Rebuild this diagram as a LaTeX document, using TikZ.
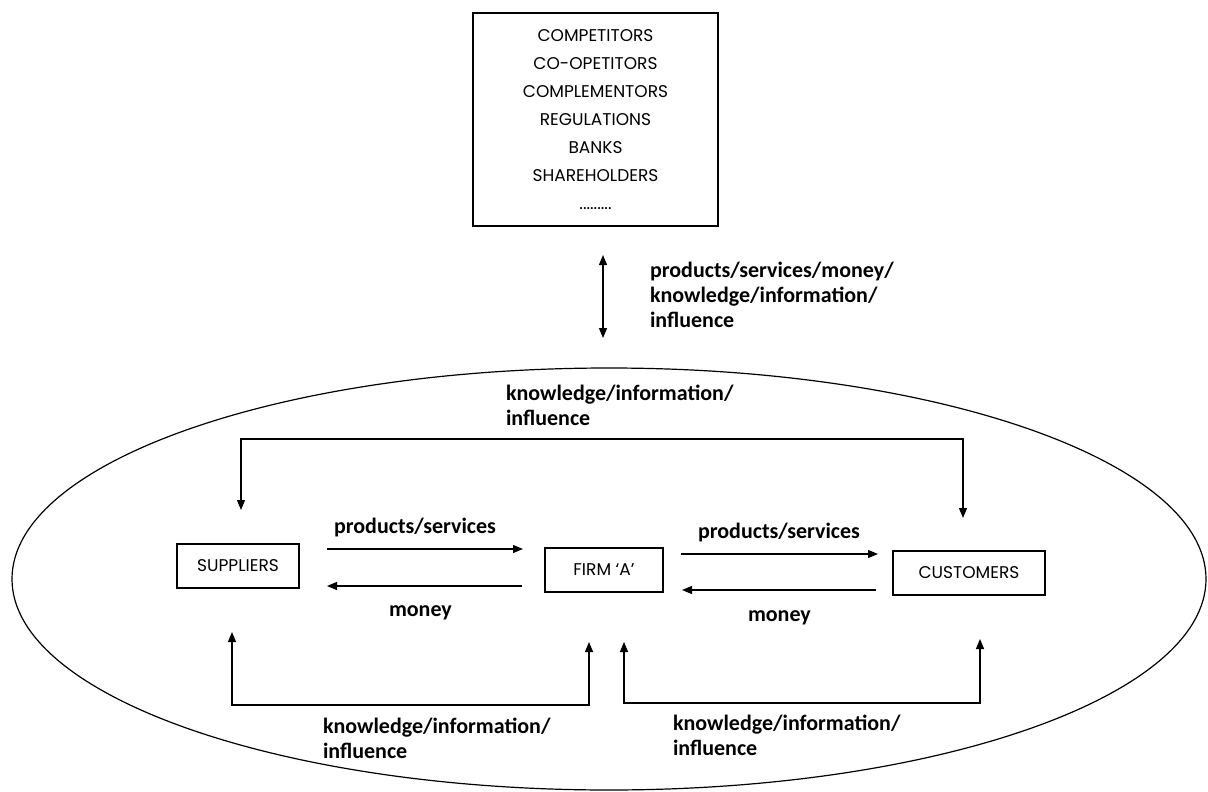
\documentclass[tikz,border=0pt]{standalone}
\usepackage{fontspec}
\setmainfont{Carlito}
\newfontfamily\boxfont{Poppins}
\usetikzlibrary{arrows.meta,shapes.geometric}

\begin{document}
\begin{tikzpicture}[x=1pt,y=-1pt,
  every node/.style={inner sep=0pt, outer sep=0pt},
  entity/.style={draw, line width=1.1pt, font=\boxfont\fontsize{17}{28}\selectfont, align=center},
  flow/.style={line width=1.2pt, -{Triangle[length=10pt,width=8pt]}},
  twoway/.style={line width=1.2pt, {Triangle[length=10pt,width=8pt]}-{Triangle[length=10pt,width=8pt]}},
  lbl/.style={font=\bfseries\fontsize{22}{25}\selectfont, align=left, anchor=base west}]

\useasboundingbox (0,0) rectangle (1208,792);
\fill[white] (0,0) rectangle (1208,792);

% the firm's market environment
\node[draw, ellipse, line width=1.2pt, minimum width=1194pt, minimum height=422pt] (market) at (609,579) {};

% outside actors
\node[entity, minimum width=245pt, minimum height=213pt] (actors) at (595.5,119.5)
  {COMPETITORS\\CO-OPETITORS\\COMPLEMENTORS\\REGULATIONS\\BANKS\\SHAREHOLDERS\\.........};

% value chain boxes
\node[entity, minimum width=122pt, minimum height=44pt] (suppliers) at (238,566) {SUPPLIERS};
\node[entity, minimum width=118pt, minimum height=44pt] (firm) at (604,570) {FIRM ‘A’};
\node[entity, minimum width=152pt, minimum height=44pt] (customers) at (969,573) {CUSTOMERS};

% connector end points
\coordinate (extTop) at (603,255);
\coordinate (extBot) at (603,338);
\coordinate (topS) at (241,510);
\coordinate (topC) at (963,518);
\coordinate (topLine) at (0,439);
\coordinate (psA) at (327,549);
\coordinate (psB) at (523,549);
\coordinate (mA) at (522,586);
\coordinate (mB) at (327,586);
\coordinate (pcA) at (681,554);
\coordinate (pcB) at (878,554);
\coordinate (mcA) at (876,590);
\coordinate (mcB) at (682,590);
\coordinate (blS) at (232,632);
\coordinate (blF) at (589,642);
\coordinate (blLine) at (0,705);
\coordinate (brF) at (624,642);
\coordinate (brC) at (980,639);
\coordinate (brLine) at (0,703);

% exchange with outside actors (labels are placed by their last baseline)
\draw[twoway] (extTop) -- (extBot);
\node[lbl] (extLbl) at (650,327) {products/services/money/\\knowledge/information/\\influence};

% knowledge between suppliers and customers
\draw[twoway] (topS) -- (topS |- topLine) -- (topC |- topLine) -- (topC);
\node[lbl] (topLbl) at (506,425) {knowledge/information/\\influence};

% goods and money flows
\draw[flow] (psA) -- (psB);
\node[lbl] (psLbl) at (334,533) {products/services};
\draw[flow] (mA) -- (mB);
\node[lbl] (mLbl) at (389,616) {money};
\draw[flow] (pcA) -- (pcB);
\node[lbl] (pcLbl) at (698,538) {products/services};
\draw[flow] (mcA) -- (mcB);
\node[lbl] (mcLbl) at (748,621) {money};

% knowledge between firm and its partners
\draw[twoway] (blS) -- (blS |- blLine) -- (blF |- blLine) -- (blF);
\node[lbl] (blLbl) at (323,758) {knowledge/information/\\influence};
\draw[twoway] (brF) -- (brF |- brLine) -- (brC |- brLine) -- (brC);
\node[lbl] (brLbl) at (673,755) {knowledge/information/\\influence};

\end{tikzpicture}
\end{document}
